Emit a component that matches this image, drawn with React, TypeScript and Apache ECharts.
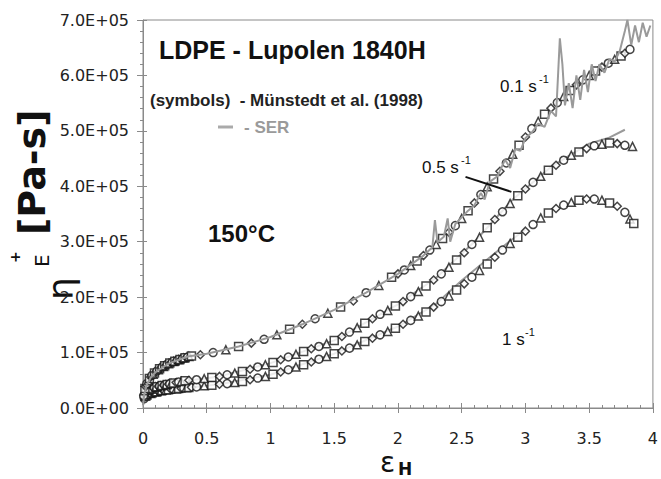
import React, { useEffect, useRef } from 'react';
import * as echarts from 'echarts';

// Axis ticks
const X_TICK_LABELS = ['0', '0.5', '1', '1.5', '2', '2.5', '3', '3.5', '4'];
const Y_TICK_LABELS = ['0.0E+00', '1.0E+05', '2.0E+05', '3.0E+05', '4.0E+05', '5.0E+05', '6.0E+05', '7.0E+05'];
const Y_UNIT = 1e5; // values below are in units of 1E+05 Pa-s

// Symbols (Münstedt et al. 1998): [Hencky strain, viscosity / 1E5]
const SYM_RATE_01: [number, number][] = [
  [0.005, 0.22], [0.01, 0.31], [0.015, 0.35], [0.02, 0.39], [0.03, 0.44], [0.04, 0.49], [0.05, 0.53], [0.06, 0.56],
  [0.07, 0.59], [0.08, 0.61], [0.09, 0.63], [0.10, 0.65], [0.11, 0.67], [0.12, 0.69], [0.13, 0.71], [0.14, 0.72],
  [0.15, 0.74], [0.16, 0.75], [0.17, 0.76], [0.18, 0.77], [0.19, 0.79], [0.20, 0.80], [0.21, 0.81], [0.22, 0.82],
  [0.23, 0.83], [0.24, 0.84], [0.25, 0.845], [0.26, 0.85], [0.27, 0.86], [0.28, 0.87], [0.29, 0.875], [0.30, 0.88],
  [0.31, 0.89], [0.32, 0.90], [0.33, 0.905], [0.34, 0.91], [0.35, 0.92], [0.36, 0.93], [0.38, 0.94],
  [0.45, 0.96], [0.55, 1.00], [0.65, 1.05], [0.75, 1.11],
  [0.85, 1.17], [0.95, 1.24], [1.05, 1.32], [1.15, 1.42], [1.25, 1.51], [1.35, 1.61], [1.45, 1.71], [1.55, 1.82],
  [1.65, 1.93], [1.75, 2.08], [1.85, 2.21], [1.95, 2.36], [2.00, 2.42], [2.05, 2.49], [2.10, 2.57], [2.15, 2.65],
  [2.20, 2.75], [2.25, 2.85], [2.30, 2.95], [2.35, 3.06], [2.40, 3.17], [2.45, 3.29], [2.50, 3.42], [2.55, 3.56],
  [2.60, 3.70], [2.65, 3.85], [2.70, 3.99], [2.75, 4.13], [2.80, 4.27], [2.85, 4.42], [2.90, 4.58], [2.95, 4.74],
  [3.00, 4.89], [3.05, 5.04], [3.10, 5.17], [3.15, 5.30], [3.20, 5.41], [3.25, 5.51], [3.30, 5.62], [3.35, 5.73],
  [3.40, 5.83], [3.45, 5.92], [3.50, 6.00], [3.55, 6.08], [3.60, 6.15], [3.65, 6.22], [3.70, 6.29], [3.75, 6.35],
  [3.78, 6.40], [3.82, 6.47],
];

const SYM_RATE_05: [number, number][] = [
  [0.01, 0.20], [0.02, 0.25], [0.03, 0.28], [0.04, 0.30], [0.05, 0.32], [0.06, 0.34], [0.07, 0.35], [0.08, 0.36],
  [0.09, 0.37], [0.10, 0.38], [0.11, 0.385], [0.12, 0.39], [0.13, 0.395], [0.14, 0.40], [0.15, 0.405], [0.16, 0.41],
  [0.17, 0.415], [0.18, 0.42], [0.19, 0.425], [0.20, 0.43], [0.21, 0.435], [0.22, 0.44], [0.24, 0.45], [0.26, 0.46],
  [0.28, 0.47], [0.30, 0.48], [0.33, 0.49],
  [0.36, 0.50], [0.42, 0.51], [0.48, 0.53], [0.54, 0.55], [0.60, 0.57], [0.66, 0.60], [0.72, 0.63], [0.78, 0.66],
  [0.84, 0.70], [0.90, 0.74], [0.96, 0.78], [1.02, 0.82], [1.08, 0.87], [1.14, 0.92], [1.20, 0.97], [1.26, 1.02],
  [1.32, 1.07], [1.38, 1.11], [1.44, 1.16], [1.50, 1.22], [1.56, 1.29], [1.62, 1.37], [1.68, 1.45], [1.74, 1.53],
  [1.80, 1.61], [1.86, 1.69], [1.92, 1.76], [1.98, 1.84], [2.04, 1.92], [2.10, 2.01], [2.16, 2.10], [2.22, 2.20],
  [2.28, 2.31], [2.34, 2.42], [2.40, 2.54], [2.46, 2.67], [2.52, 2.80], [2.58, 2.95], [2.64, 3.08], [2.70, 3.25],
  [2.76, 3.40], [2.82, 3.54], [2.88, 3.69], [2.94, 3.83], [3.00, 3.95], [3.06, 4.07], [3.12, 4.18], [3.18, 4.29],
  [3.24, 4.38], [3.30, 4.47], [3.36, 4.56], [3.42, 4.62], [3.48, 4.68], [3.54, 4.73], [3.60, 4.76], [3.66, 4.78],
  [3.72, 4.77], [3.78, 4.74], [3.84, 4.72],
];

const SYM_RATE_1: [number, number][] = [
  [0.01, 0.17], [0.02, 0.21], [0.03, 0.23], [0.04, 0.24], [0.05, 0.25], [0.06, 0.26], [0.07, 0.27], [0.08, 0.28],
  [0.09, 0.285], [0.10, 0.29], [0.11, 0.295], [0.12, 0.30], [0.13, 0.305], [0.14, 0.31], [0.15, 0.315], [0.16, 0.32],
  [0.17, 0.32], [0.18, 0.325], [0.20, 0.33], [0.22, 0.335], [0.24, 0.34], [0.26, 0.345], [0.28, 0.35], [0.30, 0.355],
  [0.32, 0.36], [0.34, 0.365], [0.36, 0.37], [0.38, 0.375], [0.42, 0.38], [0.48, 0.40],
  [0.54, 0.41], [0.60, 0.43], [0.66, 0.44], [0.72, 0.46], [0.78, 0.48], [0.84, 0.51], [0.90, 0.54], [0.96, 0.57],
  [1.02, 0.61], [1.08, 0.65], [1.14, 0.69], [1.20, 0.74], [1.26, 0.78], [1.32, 0.83], [1.38, 0.88], [1.44, 0.93],
  [1.50, 0.98], [1.56, 1.03], [1.62, 1.08], [1.68, 1.14], [1.74, 1.20], [1.80, 1.26], [1.86, 1.32], [1.92, 1.38],
  [1.98, 1.44], [2.04, 1.51], [2.10, 1.58], [2.16, 1.66], [2.22, 1.73], [2.28, 1.82], [2.34, 1.92], [2.40, 2.02],
  [2.46, 2.13], [2.52, 2.24], [2.58, 2.36], [2.64, 2.48], [2.70, 2.60], [2.76, 2.72], [2.82, 2.85], [2.88, 2.97],
  [2.94, 3.08], [3.00, 3.19], [3.06, 3.31], [3.12, 3.43], [3.18, 3.52], [3.24, 3.60], [3.30, 3.66], [3.36, 3.71],
  [3.42, 3.75], [3.48, 3.77], [3.54, 3.77], [3.60, 3.75], [3.66, 3.70], [3.72, 3.64], [3.78, 3.53], [3.82, 3.41],
  [3.85, 3.33],
];

// SER data (gray lines)
const SER_RATE_01: [number, number][] = [
  [0.0, 0.05], [0.01, 0.25], [0.03, 0.42], [0.06, 0.55], [0.1, 0.65], [0.2, 0.80], [0.35, 0.93], [0.5, 0.98],
  [0.75, 1.11], [1.0, 1.28], [1.25, 1.51], [1.5, 1.77], [1.75, 2.08], [2.0, 2.42], [2.2, 2.75], [2.27, 2.90],
  [2.29, 3.39], [2.31, 2.99], [2.36, 3.09], [2.39, 3.42], [2.41, 3.0], [2.45, 3.32], [2.5, 3.44], [2.55, 3.56],
  [2.6, 3.66], [2.65, 3.88], [2.68, 3.76], [2.72, 4.08], [2.78, 4.18], [2.84, 4.48], [2.88, 4.33], [2.92, 4.67],
  [2.96, 4.64], [3.0, 4.87], [3.05, 4.97], [3.1, 5.13], [3.15, 5.07], [3.2, 5.36], [3.24, 5.26], [3.27, 6.67],
  [3.29, 6.2], [3.31, 5.46], [3.34, 5.86], [3.37, 5.41], [3.40, 6.0], [3.43, 5.56], [3.46, 6.1], [3.49, 5.7],
  [3.52, 6.2], [3.55, 5.9], [3.58, 6.2], [3.62, 6.05], [3.66, 6.3], [3.70, 6.25], [3.74, 6.44], [3.78, 6.8],
  [3.80, 7.0], [3.83, 6.55], [3.86, 6.9], [3.89, 6.6], [3.92, 6.95], [3.95, 6.7], [3.98, 6.9],
];
const SER_RATE_05: [number, number][] = [
  [0.0, 0.05], [0.01, 0.2], [0.03, 0.28], [0.1, 0.38], [0.3, 0.48], [0.6, 0.57], [1.0, 0.81], [1.5, 1.22],
  [2.0, 1.87], [2.3, 2.35], [2.6, 3.0], [2.9, 3.76], [3.2, 4.35], [3.5, 4.77], [3.65, 4.87], [3.78, 5.02],
];
const SER_RATE_1: [number, number][] = [
  [0.0, 0.05], [0.01, 0.18], [0.03, 0.23], [0.1, 0.29], [0.3, 0.35], [0.6, 0.43], [1.0, 0.60], [1.5, 0.98],
  [2.0, 1.47], [2.3, 1.88], [2.5, 2.30], [2.7, 2.68], [2.9, 3.05], [3.0, 3.22],
];

// pointer line next to the "0.5 s-1" label
const POINTER_05: [number, number][] = [[2.53, 4.17], [2.89, 3.90]];

const SHAPES = ['circle', 'triangle', 'rect', 'diamond'];

const FONT = '"Liberation Sans", Arial, sans-serif';
const TICK_FONT = '"DejaVu Sans", sans-serif';

function symData(pts: [number, number][]) {
  return pts.map((p, i) => ({ value: [p[0], p[1] * Y_UNIT], symbol: SHAPES[i % SHAPES.length] }));
}
function lineData(pts: [number, number][]) {
  return pts.map((p) => [p[0], p[1] * Y_UNIT]);
}

function txt(text: string, x: number, y: number, size: number, weight: string, fill = '#111', family = FONT) {
  return {
    type: 'text',
    x,
    y,
    style: {
      text,
      fontSize: size,
      fontWeight: weight,
      fontFamily: family,
      fill,
      textAlign: 'left',
      textVerticalAlign: 'middle',
      align: 'left',
      verticalAlign: 'middle',
    },
    silent: true,
  };
}

export default function App() {
  const ref = useRef<HTMLDivElement>(null);
  useEffect(() => {
    const chart = echarts.init(ref.current!, null, { renderer: 'svg' });
    const symStyle = { color: '#ffffff', borderColor: '#151515', borderWidth: 1.5 };
    const serStyle = { color: '#9a9a9a', width: 2 };
    const axisColor = '#8a8a8a';
    const option: any = {
      animation: false,
      backgroundColor: '#ffffff',
      grid: { left: 143, right: 4, top: 20, bottom: 71, show: true, borderColor: axisColor, borderWidth: 1 },
      xAxis: [
        {
          type: 'value', min: 0, max: 4, interval: 0.5, position: 'bottom',
          axisLine: { show: true, lineStyle: { color: axisColor } },
          axisTick: { show: true, length: 5, lineStyle: { color: axisColor } },
          minorTick: { show: false },
          splitLine: { show: false },
          axisLabel: {
            fontFamily: TICK_FONT, fontSize: 16, color: '#222', margin: 22, showMaxLabel: true, showMinLabel: true,
            formatter: (v: number) => X_TICK_LABELS[Math.round(v / 0.5)] ?? '',
          },
        },
        {
          type: 'value', min: 0, max: 4, interval: 0.5, position: 'bottom',
          axisLine: { show: false },
          axisTick: { show: true, inside: true, length: 5, lineStyle: { color: axisColor } },
          minorTick: { show: true, splitNumber: 5, length: 3, lineStyle: { color: axisColor } },
          splitLine: { show: false },
          axisLabel: { show: false },
        },
      ],
      yAxis: [
        {
          type: 'value', min: 0, max: 7 * Y_UNIT, interval: Y_UNIT, position: 'left',
          axisLine: { show: true, lineStyle: { color: axisColor } },
          axisTick: { show: true, length: 6, lineStyle: { color: axisColor } },
          minorTick: { show: true, splitNumber: 5, length: 3, lineStyle: { color: axisColor } },
          splitLine: { show: false },
          axisLabel: {
            fontFamily: TICK_FONT, fontSize: 16, color: '#222', margin: 14,
            formatter: (v: number) => Y_TICK_LABELS[Math.round(v / Y_UNIT)] ?? '',
          },
        },
        {
          type: 'value', min: 0, max: 7 * Y_UNIT, interval: Y_UNIT, position: 'left',
          axisLine: { show: false },
          axisTick: { show: true, inside: true, length: 4, lineStyle: { color: axisColor } },
          splitLine: { show: false },
          axisLabel: { show: false },
        },
      ],
      series: [
        { type: 'line', data: lineData(SER_RATE_1), showSymbol: false, symbol: 'none', lineStyle: serStyle, z: 1 },
        { type: 'line', data: lineData(SER_RATE_05), showSymbol: false, symbol: 'none', lineStyle: serStyle, z: 1 },
        { type: 'scatter', data: symData(SYM_RATE_1), symbolSize: 8, itemStyle: symStyle, z: 3 },
        { type: 'scatter', data: symData(SYM_RATE_05), symbolSize: 8, itemStyle: symStyle, z: 3 },
        { type: 'scatter', data: symData(SYM_RATE_01), symbolSize: 8, itemStyle: symStyle, z: 3 },
        { type: 'line', data: lineData(SER_RATE_01), showSymbol: false, symbol: 'none', lineStyle: serStyle, z: 4 },
        {
          type: 'line', data: lineData(POINTER_05), showSymbol: false, symbol: 'none',
          lineStyle: { color: '#111', width: 2 }, z: 5,
        },
      ],
      graphic: [
        txt('LDPE - Lupolen 1840H', 159, 50, 25, 'bold', '#111'),
        txt('(symbols)  - Münstedt et al. (1998)', 150, 100, 17, 'bold', '#222'),
        {
          type: 'line', shape: { x1: 218, y1: 127, x2: 233, y2: 127 },
          style: { stroke: '#aaaaaa', lineWidth: 3 }, silent: true,
        },
        txt('- SER', 244, 127, 17, 'bold', '#9a9a9a'),
        txt('150°C', 208, 233, 24, 'bold', '#111'),
        txt('0.1 s', 500, 86, 17, 'normal', '#111'),
        txt('-1', 539, 79, 11, 'normal', '#111'),
        txt('0.5 s', 422, 167, 17, 'normal', '#111'),
        txt('-1', 461, 160, 11, 'normal', '#111'),
        txt('1 s', 502, 339, 17, 'normal', '#111'),
        txt('-1', 525, 332, 11, 'normal', '#111'),
        // x-axis title
        txt('ε', 380, 462, 28, 'normal', '#111', TICK_FONT),
        txt('H', 398, 469, 17, 'bold', '#111', TICK_FONT),
        // y-axis title (rotated)
        {
          type: 'group',
          x: 0,
          y: 300,
          rotation: Math.PI / 2,
          children: [
            txt('η', 0, 60, 36, 'normal', '#111', TICK_FONT),
            txt('E', 33, 42, 20, 'normal', '#111', TICK_FONT),
            txt('+', 37, 15, 14, 'bold', '#111', TICK_FONT),
            txt('[Pa-s]', 65, 32, 38, 'bold', '#111', TICK_FONT),
          ],
        },
      ],
    };
    chart.setOption(option);
    return () => chart.dispose();
  }, []);
  return (
    <div
      ref={ref}
      style={{ position: 'fixed', left: 0, top: 0, width: 661, height: 479, background: '#fff' }}
    />
  );
}
